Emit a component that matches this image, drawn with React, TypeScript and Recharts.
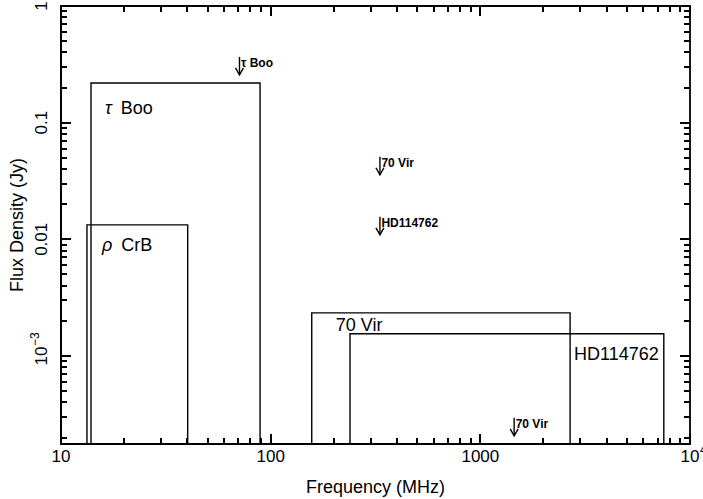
import { ReferenceArea, Scatter, ScatterChart, XAxis, YAxis } from "recharts";

const X_MIN = 10;
const X_MAX = 10000;
const Y_MIN = 1.76e-4;
const Y_MAX = 1;

const X_TICKS = [
  10, 20, 30, 40, 50, 60, 70, 80, 90, 100, 200, 300, 400, 500, 600, 700, 800,
  900, 1000, 2000, 3000, 4000, 5000, 6000, 7000, 8000, 9000, 10000,
];
const X_MAJOR = [10, 100, 1000, 10000];
const X_MAJOR_LABELS = ["10", "100", "1000", "10^4"];

const Y_TICKS = [
  0.0002, 0.0003, 0.0004, 0.0005, 0.0006, 0.0007, 0.0008, 0.0009, 0.001,
  0.002, 0.003, 0.004, 0.005, 0.006, 0.007, 0.008, 0.009, 0.01, 0.02, 0.03,
  0.04, 0.05, 0.06, 0.07, 0.08, 0.09, 0.1, 0.2, 0.3, 0.4, 0.5, 0.6, 0.7, 0.8,
  0.9, 1,
];
const Y_MAJOR = [0.001, 0.01, 0.1, 1];
const Y_MAJOR_LABELS = ["10^-3", "0.01", "0.1", "1"];

// observation windows (MHz) and flux limits (Jy)
const BOX_LABELS = ["τ Boo", "ρ CrB", "70 Vir", "HD114762"];
const BOX_FREQ_LOW = [13.9, 13.3, 157, 239];
const BOX_FREQ_HIGH = [89, 40.2, 2680, 7500];
const BOX_FLUX = [0.219, 0.0133, 0.00234, 0.00155];

// upper limits from single-frequency observations
const LIMIT_LABELS = ["τ Boo", "70 Vir", "HD114762", "70 Vir"];
const LIMIT_FREQ = [71, 332, 332, 1450];
const LIMIT_FLUX = [0.366, 0.051, 0.0156, 0.000295];

const limites = LIMIT_LABELS.map((nom, i) => ({
  nom,
  freq: LIMIT_FREQ[i],
  flux: LIMIT_FLUX[i],
}));

// tick marks on the four sides of the frame, placed through the scales
const traitsBas = X_TICKS.map((v) => ({ freq: v, flux: Y_MIN, v }));
const traitsHaut = X_TICKS.map((v) => ({ freq: v, flux: Y_MAX, v }));
const traitsGauche = Y_TICKS.map((v) => ({ freq: X_MIN, flux: v, v }));
const traitsDroite = Y_TICKS.map((v) => ({ freq: X_MAX, flux: v, v }));

const FONT = "'Liberation Sans', Arial, Helvetica, sans-serif";

const LABEL_LAYOUT = [
  { dx: 14, dy: 31, anchor: "start" },
  { dx: 15, dy: 26, anchor: "start" },
  { dx: 24, dy: 18, anchor: "start" },
  { dx: -5, dy: 26, anchor: "end" },
];

function indexDe(liste: number[], v: number) {
  return liste.findIndex((m) => Math.abs(m - v) / m < 1e-6);
}

function Exposant({ texte, x, y, rot }: { texte: string; x: number; y: number; rot?: boolean }) {
  const [base, exp] = texte.split("^");
  const transform = rot ? `translate(${x},${y}) rotate(-90)` : `translate(${x},${y})`;
  return (
    <g transform={transform}>
      <text x={0} y={0} textAnchor="middle" fontSize={17} fontFamily={FONT} fill="#000">
        {base}
      </text>
      {exp && (
        <text x={10} y={-8} textAnchor="start" fontSize={12} fontFamily={FONT} fill="#000">
          {exp.replace("-", "−")}
        </text>
      )}
    </g>
  );
}

function LabelBas(props: any) {
  const i = indexDe(X_MAJOR, props.payload.value);
  if (i < 0) return <g />;
  return <Exposant texte={X_MAJOR_LABELS[i]} x={Number(props.x)} y={Number(props.y) + 18} />;
}

function LabelGauche(props: any) {
  const i = indexDe(Y_MAJOR, props.payload.value);
  if (i < 0) return <g />;
  return <Exposant texte={Y_MAJOR_LABELS[i]} x={Number(props.x) - 14} y={Number(props.y)} rot />;
}

function fabriqueTrait(dirX: number, dirY: number, majeurs: number[]) {
  return (props: any) => {
    const { cx, cy, payload } = props;
    if (cx == null || cy == null) return <g />;
    const len = indexDe(majeurs, payload.v) >= 0 ? 10 : 6;
    return (
      <path
        d={`M${cx},${cy}L${cx + dirX * len},${cy + dirY * len}`}
        stroke="#000"
        strokeWidth={2}
        shapeRendering="crispEdges"
        fill="none"
      />
    );
  };
}

const TraitBas = fabriqueTrait(0, -1, X_MAJOR);
const TraitHaut = fabriqueTrait(0, 1, X_MAJOR);
const TraitGauche = fabriqueTrait(1, 0, Y_MAJOR);
const TraitDroite = fabriqueTrait(-1, 0, Y_MAJOR);

function EtiquetteBoite(props: any) {
  const { viewBox, idx } = props;
  if (!viewBox) return null;
  const lay = LABEL_LAYOUT[idx];
  const texte: string = BOX_LABELS[idx];
  const x = lay.anchor === "end" ? viewBox.x + viewBox.width + lay.dx : viewBox.x + lay.dx;
  const y = viewBox.y + lay.dy;
  const grec = /^[α-ω]/.test(texte);
  return (
    <text x={x} y={y} textAnchor={lay.anchor} fontSize={18} fontFamily={FONT} fill="#000">
      {grec ? (
        <>
          <tspan fontStyle="italic">{texte[0]}</tspan>
          <tspan dx={4}>{texte.slice(1)}</tspan>
        </>
      ) : (
        texte
      )}
    </text>
  );
}

function Fleche(props: any) {
  const { cx, cy, payload } = props;
  if (cx == null || cy == null) return null;
  const bas = cy + 18;
  return (
    <g>
      <line x1={cx} y1={cy} x2={cx} y2={bas} stroke="#000" strokeWidth={1.4} />
      <polyline
        points={`${cx - 4},${bas - 7} ${cx},${bas} ${cx + 4},${bas - 7}`}
        fill="none"
        stroke="#000"
        strokeWidth={1.4}
      />
      <text x={cx + 1.5} y={cy + 10} fontSize={12} fontWeight="bold" fontFamily={FONT} fill="#000">
        {payload.nom}
      </text>
    </g>
  );
}

export default function App() {
  return (
    <div style={{ position: "absolute", left: 0, top: 0, background: "#fff" }}>
      <ScatterChart
        width={703}
        height={499}
        margin={{ top: 6, right: 13, bottom: 0, left: 0 }}
      >
        <XAxis
          xAxisId="bas"
          type="number"
          dataKey="freq"
          scale="log"
          domain={[X_MIN, X_MAX]}
          ticks={X_MAJOR}
          interval={0}
          height={55}
          tickSize={0}
          tickMargin={0}
          tickLine={false}
          axisLine={{ stroke: "#000", strokeWidth: 1.8 }}
          tick={LabelBas}
        />
        <YAxis
          yAxisId="gauche"
          type="number"
          dataKey="flux"
          scale="log"
          domain={[Y_MIN, Y_MAX]}
          ticks={Y_MAJOR}
          interval={0}
          width={61}
          tickSize={0}
          tickMargin={0}
          tickLine={false}
          axisLine={{ stroke: "#000", strokeWidth: 1.8 }}
          tick={LabelGauche}
        />
        {/* frame */}
        <ReferenceArea
          xAxisId="bas"
          yAxisId="gauche"
          x1={X_MIN}
          x2={X_MAX}
          y1={Y_MIN}
          y2={Y_MAX}
          fill="none"
          fillOpacity={0}
          stroke="#000"
          strokeWidth={1.8}
          ifOverflow="visible"
        />
        {BOX_LABELS.map((nom, i) => (
          <ReferenceArea
            key={nom + i}
            xAxisId="bas"
            yAxisId="gauche"
            x1={BOX_FREQ_LOW[i]}
            x2={BOX_FREQ_HIGH[i]}
            y1={Y_MIN}
            y2={BOX_FLUX[i]}
            fill="none"
            fillOpacity={0}
            stroke="#000"
            strokeWidth={1.4}
            ifOverflow="visible"
            label={<EtiquetteBoite idx={i} />}
          />
        ))}
        <Scatter xAxisId="bas" yAxisId="gauche" data={traitsBas} shape={TraitBas} isAnimationActive={false} legendType="none" />
        <Scatter xAxisId="bas" yAxisId="gauche" data={traitsHaut} shape={TraitHaut} isAnimationActive={false} legendType="none" />
        <Scatter xAxisId="bas" yAxisId="gauche" data={traitsGauche} shape={TraitGauche} isAnimationActive={false} legendType="none" />
        <Scatter xAxisId="bas" yAxisId="gauche" data={traitsDroite} shape={TraitDroite} isAnimationActive={false} legendType="none" />
        <Scatter
          xAxisId="bas"
          yAxisId="gauche"
          data={limites}
          shape={Fleche}
          isAnimationActive={false}
          legendType="none"
        />
        <text
          x={375.5}
          y={493}
          textAnchor="middle"
          fontSize={18}
          fontFamily={FONT}
          fill="#000"
        >
          Frequency (MHz)
        </text>
        <text
          x={23}
          y={225}
          transform="rotate(-90 23 225)"
          textAnchor="middle"
          fontSize={18}
          fontFamily={FONT}
          fill="#000"
        >
          Flux Density (Jy)
        </text>
      </ScatterChart>
    </div>
  );
}
